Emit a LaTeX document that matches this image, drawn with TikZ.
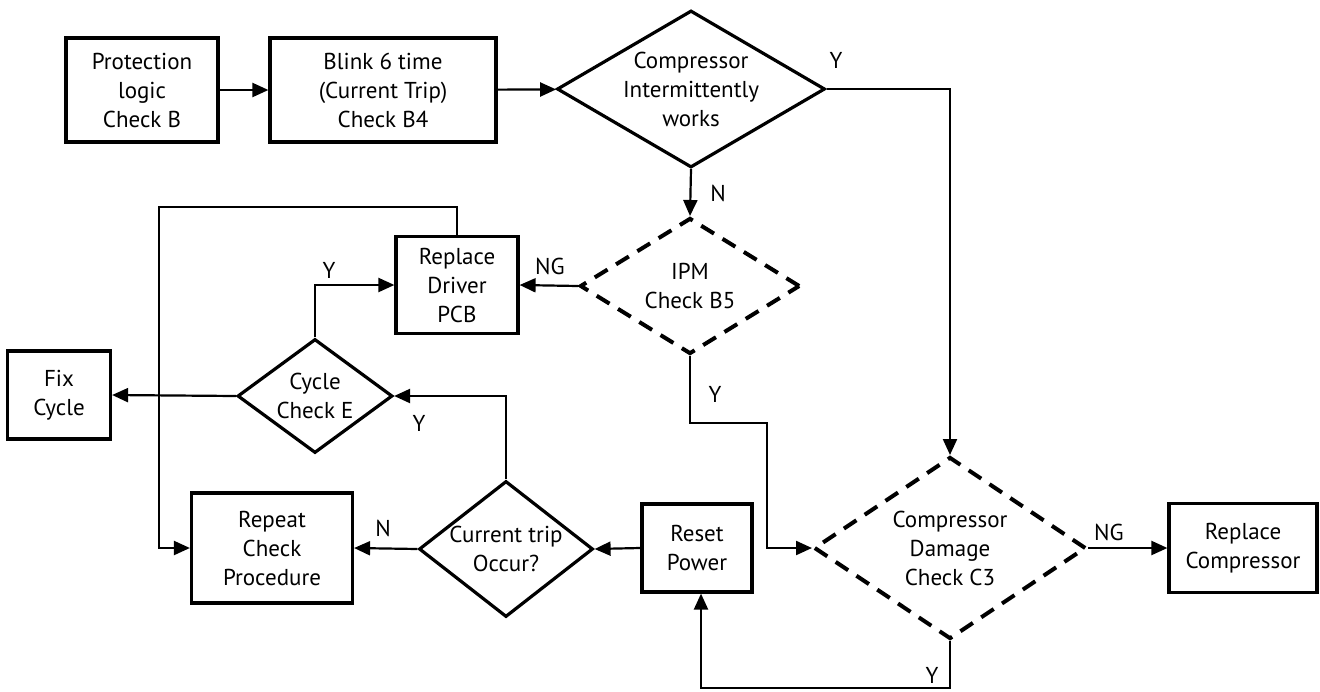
\documentclass[tikz,border=0pt]{standalone}
\usepackage{fontspec}
\setmainfont{PT Sans}
\usepackage{tikz}
\usetikzlibrary{positioning, arrows.meta, shapes.geometric}

\tikzset{
    stepbox/.style={draw, line width=3.2pt, align=center, inner sep=0pt},
    decision/.style={diamond, draw, line width=3.2pt, align=center, inner sep=-4pt},
    checkdec/.style={decision, line width=4pt, dash pattern=on 15pt off 10pt},
    flow/.style={line width=2.2pt, -{Triangle[length=16pt, width=14pt]}},
    tag/.style={inner sep=0pt}
}

\begin{document}
\begin{tikzpicture}[x=1pt, y=-1pt, font=\fontsize{23}{29}\selectfont]
    \useasboundingbox (0,0) rectangle (1320,691);

    \node[stepbox, minimum width=152pt, minimum height=104pt] (prot) at (142,90) {Protection\\logic\\Check B};
    \node[stepbox, minimum width=226pt, minimum height=104pt] (blink) at (383,90) {Blink 6 time\\(Current Trip)\\Check B4};
    \node[decision, minimum width=268pt, minimum height=157pt, aspect=1.7] (cmp) at (691,89) {Compressor\\Intermittently\\works};
    \node[checkdec, minimum width=220pt, minimum height=136pt, aspect=1.62] (ipm) at (690,286) {IPM\\Check B5};
    \node[stepbox, minimum width=122pt, minimum height=97pt] (drv) at (457,285) {Replace\\Driver\\PCB};
    \node[decision, minimum width=155pt, minimum height=114pt, aspect=1.36] (cyc) at (315,396) {Cycle\\Check E};
    \node[stepbox, minimum width=103pt, minimum height=88pt] (fix) at (59,395) {Fix\\Cycle};
    \node[decision, minimum width=174pt, minimum height=136pt, aspect=1.28] (trip) at (506,549) {Current trip\\Occur?};
    \node[stepbox, minimum width=110pt, minimum height=88pt] (rst) at (697,548) {Reset\\Power};
    \node[stepbox, minimum width=161pt, minimum height=110pt] (rep) at (272,548) {Repeat\\Check\\Procedure};
    \node[checkdec, minimum width=272pt, minimum height=182pt, aspect=1.5] (dmg) at (950,548) {Compressor\\Damage\\Check C3};
    \node[stepbox, minimum width=148pt, minimum height=89pt] (rcmp) at (1243,548) {Replace\\Compressor};

    \coordinate (fb) at (159,207);
    \coordinate (jog) at (767,423);
    \coordinate (low) at (0,688);

    \draw[flow] (prot) -- (blink);
    \draw[flow] (blink) -- (cmp);
    \draw[flow] (cmp.east) -| (dmg.north);
    \draw[flow] (cmp.south) -- (ipm.north);
    \draw[flow] (ipm.west) -- (drv.east);
    \draw[flow] (drv.north) |- (fb) |- (rep.west);
    \draw[flow] (cyc.west) -- (fix.east);
    \draw[flow] (cyc.north) |- (drv.west);
    \draw[flow] (trip.north) |- (cyc.east);
    \draw[flow] (rst.west) -- (trip.east);
    \draw[flow] (trip.west) -- (rep.east);
    \draw[flow] (ipm.south) |- (jog) |- (dmg.west);
    \draw[flow] (dmg.east) -- (rcmp.west);
    \draw[flow] (dmg.south) -- (dmg.south |- low) -| ([xshift=4pt]rst.south);

    \node[tag] (ycmp) at (836,60) {Y};
    \node[tag] (ncmp) at (718,193) {N};
    \node[tag] (ngipm) at (550,266) {NG};
    \node[tag] (ycyc) at (329,270) {Y};
    \node[tag] (ytrip) at (419,423) {Y};
    \node[tag] (ntrip) at (383,528) {N};
    \node[tag] (yipm) at (715,394) {Y};
    \node[tag] (ngdmg) at (1109,532) {NG};
    \node[tag] (ydmg) at (932,675) {Y};
\end{tikzpicture}
\end{document}
